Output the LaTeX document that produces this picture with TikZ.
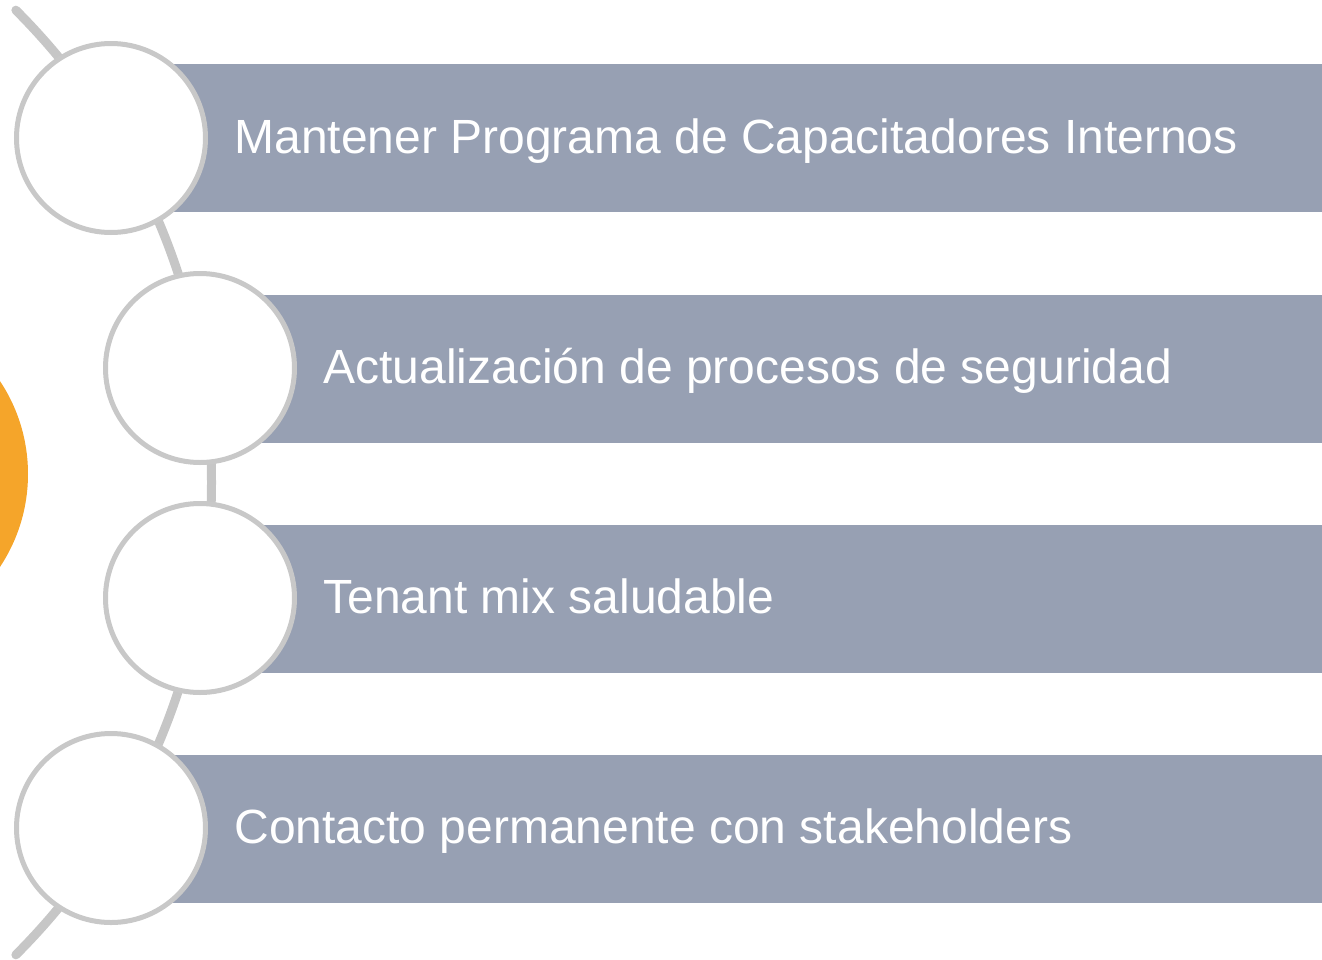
\documentclass[tikz,border=0pt]{standalone}
\usepackage{fontspec}
\setmainfont{Liberation Sans}
\usetikzlibrary{positioning}
\definecolor{barblue}{RGB}{151,160,179}
\definecolor{ringgray}{RGB}{200,200,200}
\definecolor{arcgray}{RGB}{198,198,198}
\definecolor{sunorange}{RGB}{245,165,42}

\begin{document}
\begin{tikzpicture}[
  x=0.5pt, y=-0.5pt,
  every node/.style={inner sep=0},
  bar/.style={fill=barblue, minimum height=74pt, anchor=west},
  ring/.style={draw=ringgray, fill=white, circle, line width=2.5pt, minimum size=94.5pt},
  txt/.style={text=white, font=\fontsize{24pt}{29pt}\selectfont, text height=15pt, text depth=0pt},
  ]
  \useasboundingbox (0,0) rectangle (1322,959);
  % backbone arc and the orange disc on the left
  \coordinate (hub) at (-456.5,482.5);
  \draw[arcgray, line width=4.5pt, line cap=round]
    ([shift={(45:334pt)}]hub) arc[start angle=45, end angle=-45, radius=334pt];
  \fill[sunorange] (-140,474) circle[radius=84pt];
  % bars
  \node[bar, minimum width=610pt] (b1) at (111,138) {};
  \node[bar, minimum width=566pt] (b2) at (200,368.5) {};
  \node[bar, minimum width=566pt] (b3) at (200,598.5) {};
  \node[bar, minimum width=610pt] (b4) at (111,828.5) {};
  % rings
  \node[ring] (c1) at (111,138) {};
  \node[ring] (c2) at (200,368) {};
  \node[ring] (c3) at (200,598) {};
  \node[ring] (c4) at (111,828) {};
  % labels
  \node[txt, right=13pt of c1] (t1) {Mantener Programa de Capacitadores Internos};
  \node[txt, right=13pt of c2] (t2) {Actualización de procesos de seguridad};
  \node[txt, right=13pt of c3] (t3) {Tenant mix saludable};
  \node[txt, right=13pt of c4] (t4) {Contacto permanente con stakeholders};
\end{tikzpicture}
\end{document}
